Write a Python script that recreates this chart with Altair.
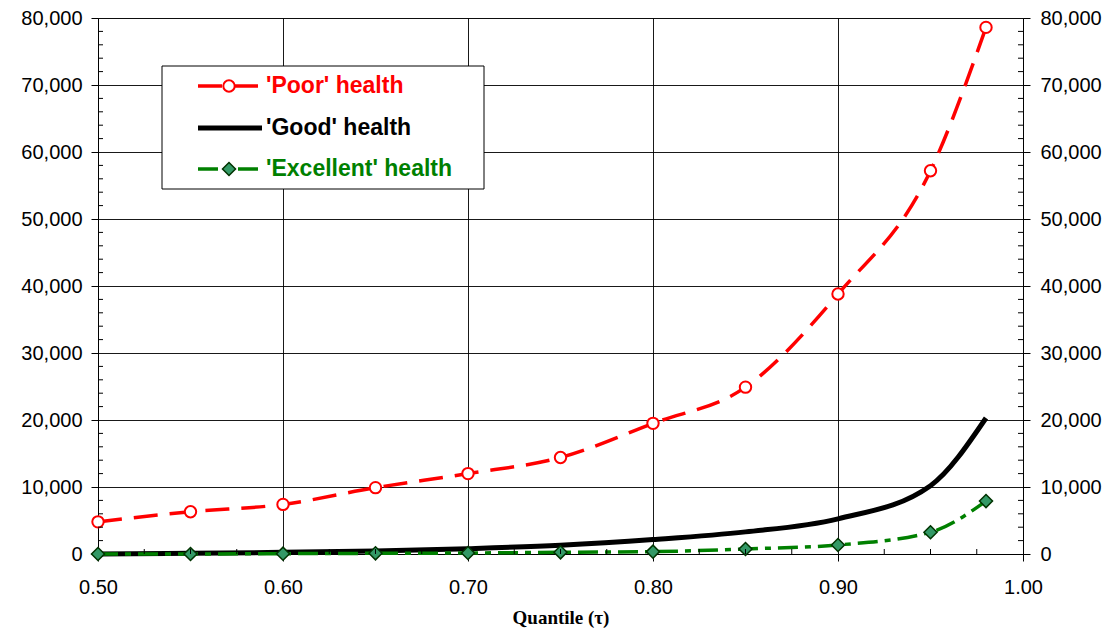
import altair as alt
import pandas as pd

# ---------------- data ----------------
quantiles = [0.50, 0.55, 0.60, 0.65, 0.70, 0.75, 0.80, 0.85, 0.90, 0.95, 0.98]
poor = [4800, 6300, 7400, 9900, 12000, 14400, 19500, 24900, 38800, 57200, 78600]
good = [0, 100, 250, 450, 800, 1300, 2150, 3300, 5250, 10200, 20300]
excellent = [0, 0, 50, 100, 150, 250, 350, 750, 1350, 3250, 7900]
series_names = ["'Poor' health", "'Good' health", "'Excellent' health"]

x_ticks = [0.5, 0.6, 0.7, 0.8, 0.9, 1.0]
x_minor = [0.525, 0.55, 0.575, 0.625, 0.65, 0.675, 0.725, 0.75, 0.775,
           0.825, 0.85, 0.875, 0.925, 0.95, 0.975]
y_ticks = [0, 10000, 20000, 30000, 40000, 50000, 60000, 70000, 80000]
y_minor = [v for v in range(0, 80001, 2000) if v % 10000 != 0]

rows = []
for name, vals in zip(series_names, [poor, good, excellent]):
    for q, v in zip(quantiles, vals):
        rows.append({"series": name, "q": q, "value": v})
df = pd.DataFrame(rows)

W, H = 925, 536
RED = "#FF0000"
GREEN = "#008000"
DFILL = "#339966"
DSTROKE = "#003300"
FONT = "Liberation Sans"

xscale = alt.Scale(domain=[0.5, 1.0], nice=False, zero=False)
yscale = alt.Scale(domain=[0, 80000], nice=False)

x_axis = alt.Axis(values=x_ticks, format=".2f", title="Quantile (τ)",
                  grid=True, tickSize=7, labelPadding=16, labelFlush=False,
                  titlePadding=11, titleFont="Liberation Serif",
                  titleFontSize=19, titleFontWeight="bold")
y_axis = alt.Axis(values=y_ticks, format=",d", title=None, grid=True,
                  tickSize=7, labelPadding=9, labelFlush=False)

base = alt.Chart(df).encode(
    x=alt.X("q:Q", scale=xscale, axis=x_axis),
    y=alt.Y("value:Q", scale=yscale, axis=y_axis))

def sel(name):
    return alt.datum.series == name

black_line = base.transform_filter(sel(series_names[1])).mark_line(
    color="#000000", strokeWidth=5, interpolate="monotone")
green_line = base.transform_filter(sel(series_names[2])).mark_line(
    color=GREEN, strokeWidth=3.5, strokeDash=[20, 7, 6, 7], interpolate="monotone")
green_pts = base.transform_filter(sel(series_names[2])).mark_point(
    shape="diamond", filled=True, fill=DFILL, stroke=DSTROKE, strokeWidth=1.5,
    size=170, opacity=1)
red_line = base.transform_filter(sel(series_names[0])).mark_line(
    color=RED, strokeWidth=3.5, strokeDash=[24, 12], interpolate="monotone")
red_pts = base.transform_filter(sel(series_names[0])).mark_point(
    shape="circle", filled=True, fill="white", stroke=RED, strokeWidth=2,
    size=130, opacity=1)

# minor ticks (inside the plot)
ymin_df = pd.DataFrame({"value": y_minor})
xmin_df = pd.DataFrame({"q": x_minor})
ymin_left = alt.Chart(ymin_df).mark_rule(color="black", strokeWidth=1).encode(
    y=alt.Y("value:Q", scale=yscale, axis=y_axis), x=alt.value(0), x2=alt.value(5))
ymin_right = alt.Chart(ymin_df).mark_rule(color="black", strokeWidth=1).encode(
    y=alt.Y("value:Q", scale=yscale, axis=y_axis), x=alt.value(W - 5), x2=alt.value(W))
xmin_bot = alt.Chart(xmin_df).mark_rule(color="black", strokeWidth=1).encode(
    x=alt.X("q:Q", scale=xscale, axis=x_axis), y=alt.value(H - 5), y2=alt.value(H))

main = alt.layer(black_line, green_line, green_pts, red_line, red_pts,
                 ymin_left, ymin_right, xmin_bot)

# right-hand duplicate axis
right_axis = alt.Chart(pd.DataFrame({"v": y_ticks})).mark_rule(opacity=0).encode(
    y=alt.Y("v:Q", scale=yscale,
            axis=alt.Axis(orient="right", values=y_ticks, format=",d", title=None,
                          grid=False, tickSize=7, labelPadding=10,
                          labelFlush=False)))

# ---------------- legend ----------------
one = pd.DataFrame({"a": [0]})
box = alt.Chart(one).mark_rect(fill="white", stroke="black", strokeWidth=1).encode(
    x=alt.value(64), x2=alt.value(386), y=alt.value(48), y2=alt.value(171))

leg_layers = [box]
rows_y = [68, 110, 151]
styles = [
    dict(color=RED, strokeWidth=3.5, strokeDash=[24, 12]),
    dict(color="#000000", strokeWidth=5),
    dict(color=GREEN, strokeWidth=3.5, strokeDash=[20, 7, 6, 7]),
]
for name, yy, st in zip(series_names, rows_y, styles):
    leg_layers.append(alt.Chart(one).mark_rule(strokeCap="butt", **st).encode(
        x=alt.value(100), x2=alt.value(164), y=alt.value(yy)))
leg_layers.append(alt.Chart(one).mark_point(
    shape="circle", filled=True, fill="white", stroke=RED, strokeWidth=2,
    size=130, opacity=1).encode(x=alt.value(131), y=alt.value(rows_y[0])))
leg_layers.append(alt.Chart(one).mark_point(
    shape="diamond", filled=True, fill=DFILL, stroke=DSTROKE, strokeWidth=1.5,
    size=170, opacity=1).encode(x=alt.value(131), y=alt.value(rows_y[2])))
for name, yy, col in zip(series_names, rows_y, [RED, "#000000", GREEN]):
    leg_layers.append(alt.Chart(one).mark_text(
        align="left", baseline="middle", font=FONT, fontSize=23,
        fontWeight="bold", color=col).encode(
        x=alt.value(168), y=alt.value(yy), text=alt.value(name)))

chart = alt.layer(main, right_axis, *leg_layers).resolve_scale(
    y="independent"
).properties(
    width=W, height=H,
    autosize=alt.AutoSizeParams(type="none"),
    padding={"left": 90, "top": 10, "right": 85, "bottom": 78},
).configure_view(
    stroke="#808080", strokeWidth=1
).configure_axis(
    domainColor="#000000", domainWidth=1, tickColor="#000000", tickWidth=1,
    labelColor="#000000", labelFont=FONT, labelFontSize=20,
    gridColor="#000000", gridWidth=1, gridOpacity=0.9,
    titleColor="#000000"
)

chart.save("out.html", embed_options={"renderer": "svg", "actions": False})
